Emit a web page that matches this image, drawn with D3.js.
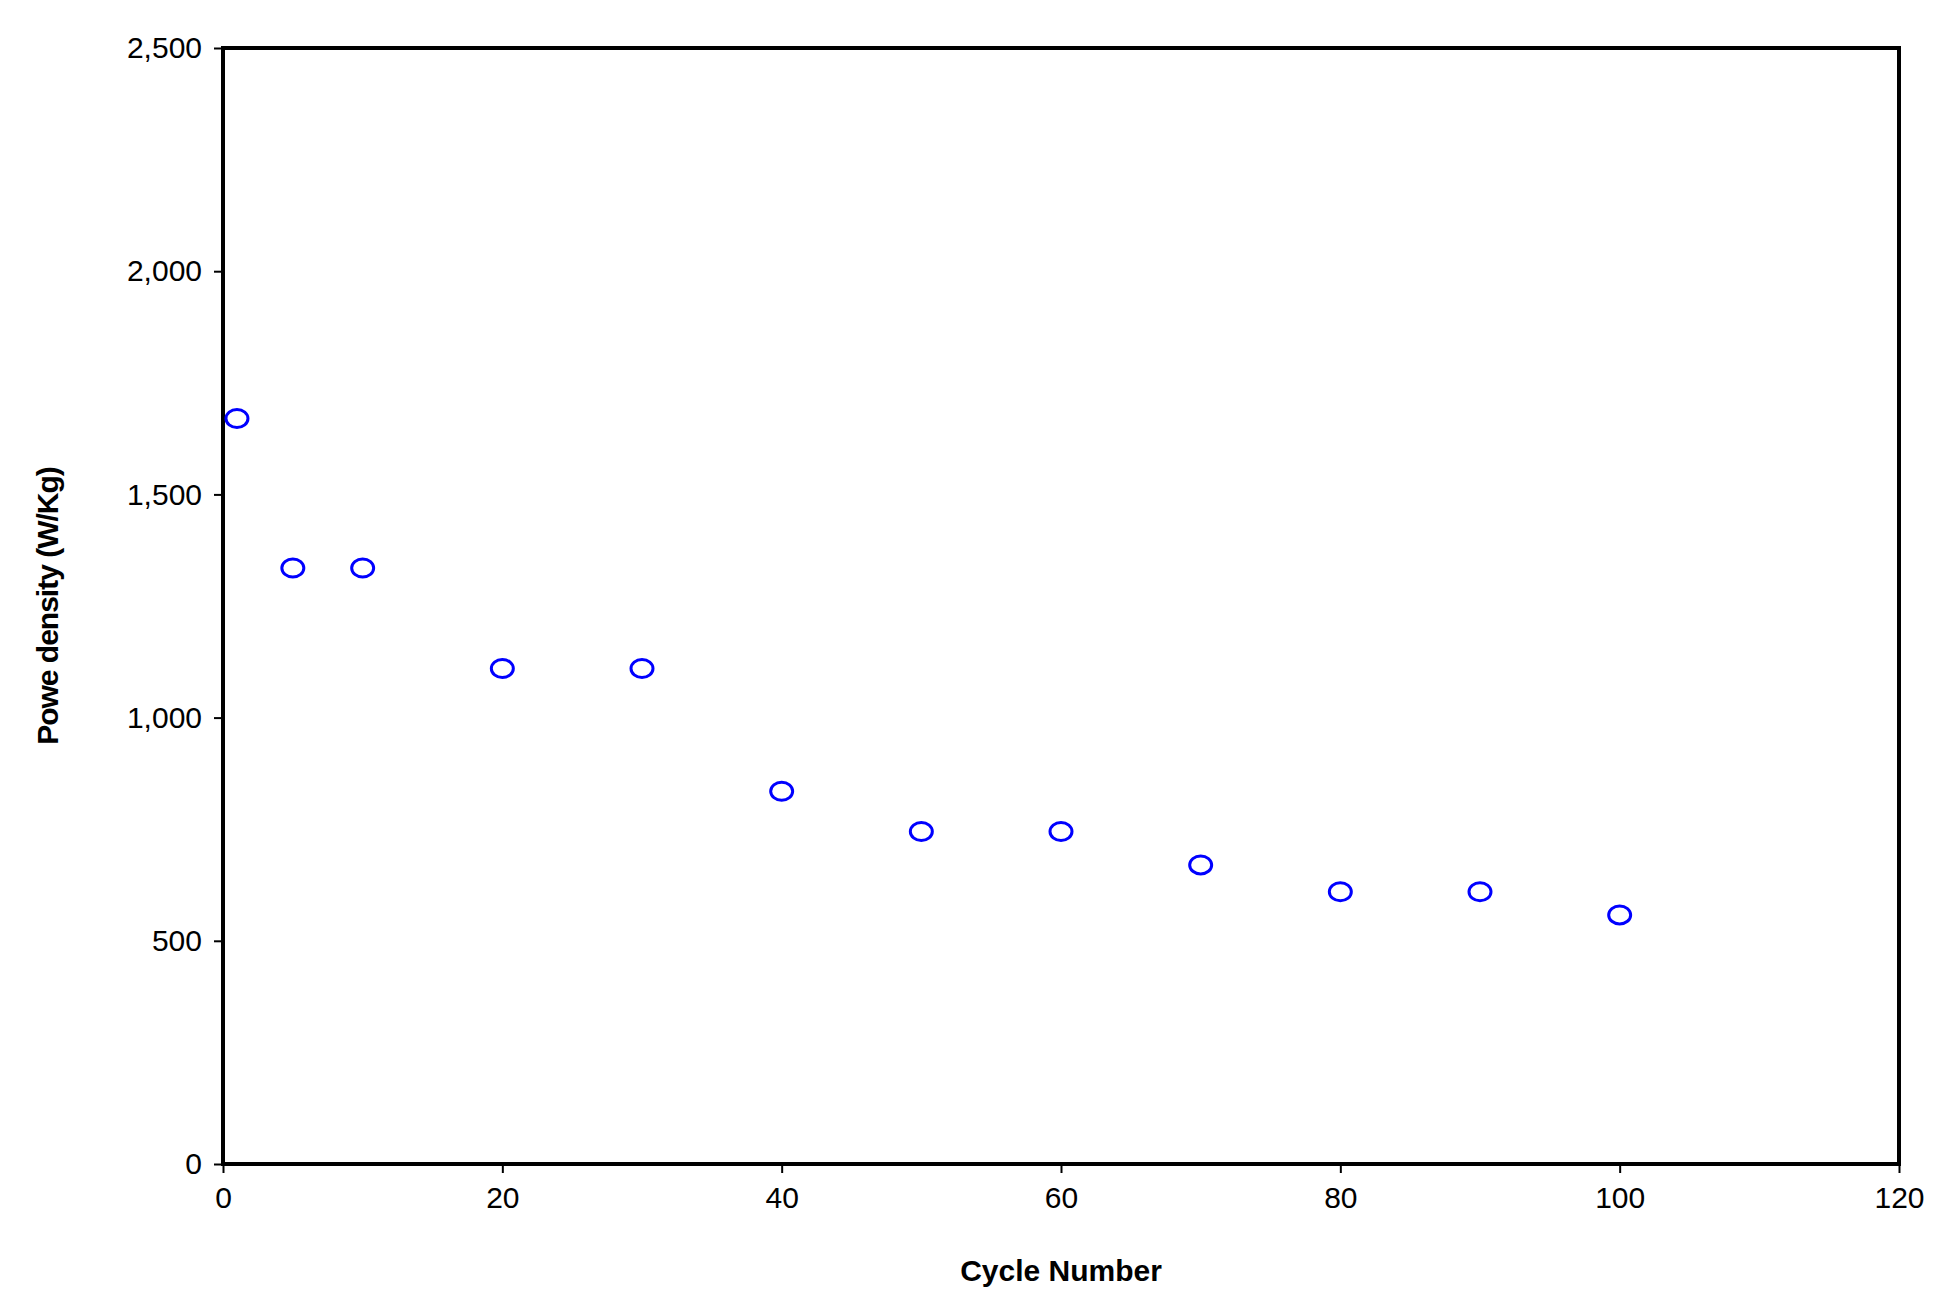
<!DOCTYPE html>
<html>
<head>
<meta charset="utf-8">
<script src="https://cdn.jsdelivr.net/npm/d3@7"></script>
<style>
  body { margin: 0; background: #fff; }
  text { font-family: "Liberation Sans", Arial, sans-serif; }
</style>
</head>
<body>
<svg id="chart"></svg>
<script>
// data
const cycles = [1, 5, 10, 20, 30, 40, 50, 60, 70, 80, 90, 100];
const powerDensity = [1670, 1335, 1335, 1110, 1110, 835, 745, 745, 670, 610, 610, 558];
const xTicks = [0, 20, 40, 60, 80, 100, 120];
const yTicks = [0, 500, 1000, 1500, 2000, 2500];

const W = 1954, H = 1314;
const margin = { top: 48, right: 55, bottom: 150, left: 223 };
const width = W - margin.left - margin.right;
const height = H - margin.top - margin.bottom;

const svg = d3.select("#chart").attr("width", W).attr("height", H);
const g = svg.append("g").attr("transform", `translate(${margin.left},${margin.top})`);

const x = d3.scaleLinear().domain([0, 120]).range([0, width]);
const y = d3.scaleLinear().domain([0, 2500]).range([height, 0]);

// frame
g.append("rect")
  .attr("width", width).attr("height", height)
  .attr("fill", "none").attr("stroke", "#000").attr("stroke-width", 4);

// Y axis
const yAxis = g.append("g")
  .call(d3.axisLeft(y).tickValues(yTicks).tickSize(9).tickPadding(12));
yAxis.select(".domain").remove();
yAxis.selectAll("line").attr("stroke-width", 2);
yAxis.selectAll("text").style("font-size", "30px").attr("fill", "#000");

// X axis
const xAxis = g.append("g")
  .attr("transform", `translate(0,${height})`)
  .call(d3.axisBottom(x).tickValues(xTicks).tickSize(9).tickPadding(14));
xAxis.select(".domain").remove();
xAxis.selectAll("line").attr("stroke-width", 2);
xAxis.selectAll("text").style("font-size", "30px").attr("fill", "#000");

// markers
g.selectAll("ellipse.pt")
  .data(cycles.map((c, i) => ({ c, v: powerDensity[i] })))
  .enter().append("ellipse")
  .attr("class", "pt")
  .attr("cx", d => x(d.c))
  .attr("cy", d => y(d.v))
  .attr("rx", 11).attr("ry", 9)
  .attr("fill", "none").attr("stroke", "#0000ff").attr("stroke-width", 3);

// axis titles
svg.append("text")
  .attr("x", margin.left + x(60)).attr("y", 1281)
  .attr("text-anchor", "middle")
  .style("font-size", "30px").style("font-weight", "bold")
  .text("Cycle Number");

svg.append("text")
  .attr("transform", `translate(58,606) rotate(-90)`)
  .attr("text-anchor", "middle")
  .style("font-size", "30px").style("font-weight", "bold")
  .style("letter-spacing", "-1px")
  .text("Powe density (W/Kg)");
</script>
</body>
</html>
